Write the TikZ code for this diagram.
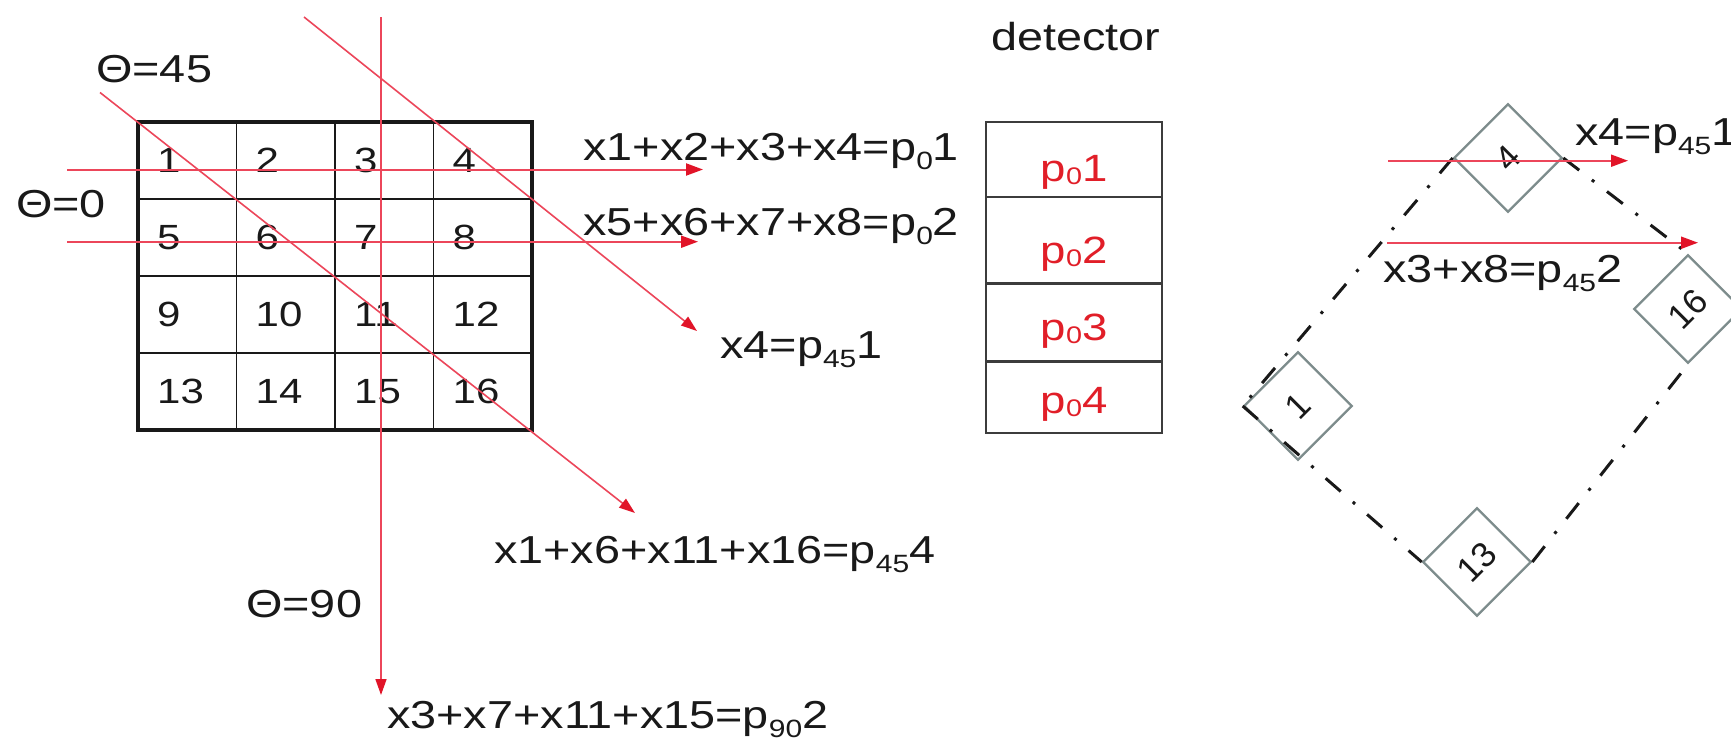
\documentclass[tikz,border=0pt]{standalone}
\usepackage{fontspec}
\setmainfont{Liberation Sans}
\usetikzlibrary{arrows.meta}
\definecolor{rl}{RGB}{236,70,90}
\definecolor{rh}{RGB}{225,20,40}
\definecolor{rt}{RGB}{225,30,40}
\definecolor{dg}{RGB}{125,140,140}
\definecolor{ink}{RGB}{25,25,25}
\definecolor{boxgray}{RGB}{60,60,60}
\newcommand\lsub[1]{\raisebox{-9pt}{\fontsize{25}{25}\selectfont #1}}
\newcommand\rsub[1]{\raisebox{-3pt}{\fontsize{24}{24}\selectfont #1}}
\begin{document}
\begin{tikzpicture}[x=1pt,y=1pt,
  lbl/.style={inner sep=0pt, xscale=1.2, font=\fontsize{39}{39}\selectfont, text=ink, anchor=base west},
  cellnum/.style={inner sep=0pt, xscale=1.2, font=\fontsize{35}{35}\selectfont, text=ink, anchor=west},
  detlbl/.style={inner sep=0pt, xscale=1.2, font=\fontsize{38}{38}\selectfont, text=rt, anchor=base},
  ray/.style={draw=rl, line width=2pt, -{Triangle[length=17pt,width=12pt,color=rh]}},
  dray/.style={draw=rl, line width=1.6pt, -{Triangle[length=16pt,width=11pt,color=rh]}},
  cellbox/.style={draw=dg, line width=2.2pt, rotate=45, minimum width=76pt, minimum height=76pt, inner sep=0pt, font=\fontsize{35}{35}\selectfont, text=ink},
  dashdot/.style={draw=ink, line width=3pt, dash pattern=on 20pt off 16pt on 3pt off 16pt}
]
\useasboundingbox (0,0) rectangle (1731,-740);
\fill[white] (0,0) rectangle (1731,-740);

% ---------- grid ----------
\foreach \c in {1,2,3} \draw[draw=ink, line width=1.8pt] ({138+98.5*\c},-122) -- ({138+98.5*\c},-430);
\foreach \r in {1,2,3} \draw[draw=ink, line width=1.8pt] (138,{-122-77*\r}) -- (532,{-122-77*\r});
\draw[draw=ink, line width=4.5pt] (138,-122) rectangle (532,-430);
\foreach \r in {0,...,3} {
  \foreach \c in {0,...,3} {
    \pgfmathtruncatemacro\n{4*\r+\c+1}
    \node[cellnum] (c\n) at ({157+98.5*\c}, {-(160.5+77*\r)}) {\n};
  }
}

% ---------- rays ----------
\coordinate (h1s) at (67,-169.5);  \coordinate (h1e) at (703,-169.5);
\coordinate (h2s) at (67,-241.7);  \coordinate (h2e) at (698,-241.7);
\coordinate (vs)  at (381,-17);    \coordinate (ve)  at (381,-695);
\coordinate (das) at (100,-92.5);  \coordinate (dae) at (635,-513);
\coordinate (dbs) at (304,-17);    \coordinate (dbe) at (697,-331);
\draw[ray] (h1s) -- (h1e);
\draw[ray] (h2s) -- (h2e);
\draw[dray] (vs) -- (ve);
\draw[dray] (das) -- (dae);
\draw[dray] (dbs) -- (dbe);

% ---------- labels ----------
\node[lbl] (t45) at (96,-82) {Θ=45};
\node[lbl] (t0) at (16,-217) {Θ=0};
\node[lbl] (t90) at (246,-617) {Θ=90};
\node[lbl] (e1) at (583,-160) {x1+x2+x3+x4=p\lsub{0}1};
\node[lbl] (e2) at (583,-235) {x5+x6+x7+x8=p\lsub{0}2};
\node[lbl] (e3) at (720,-358) {x4=p\lsub{45}1};
\node[lbl] (e4) at (494,-563) {x1+x6+x11+x16=p\lsub{45}4};
\node[lbl] (e5) at (387,-728) {x3+x7+x11+x15=p\lsub{90}2};

% ---------- detector ----------
\node[lbl, anchor=base] (det) at (1076,-50) {detector};
\draw[draw=boxgray, line width=2.2pt] (986,-121.7) rectangle (1162,-433.3);
\foreach \yy in {196.7,283.5,361.5} \draw[draw=boxgray, line width=2.2pt] (986,-\yy) -- (1162,-\yy);
\node[detlbl] (p1) at (1074,-181.7) {p\rsub{0}1};
\node[detlbl] (p2) at (1074,-263) {p\rsub{0}2};
\node[detlbl] (p3) at (1074,-340) {p\rsub{0}3};
\node[detlbl] (p4) at (1074,-413) {p\rsub{0}4};

% ---------- rotated grid ----------
\node[cellbox] (d1)  at (1298,-406) {1};
\node[cellbox] (d4)  at (1508,-158) {4};
\node[cellbox] (d16) at (1688,-309) {16};
\node[cellbox] (d13) at (1477,-562) {13};
\draw[dashdot] (d4.north west) -- (d1.north west);
\draw[dashdot] (d1.north west) -- (d13.north west);
\draw[dashdot] (d13.south east) -- (d16.south west);
\draw[dashdot] (d4.south east) -- (d16.north east);

\coordinate (r1s) at (1388,-160.7); \coordinate (r1e) at (1628,-160.7);
\coordinate (r2s) at (1387,-242.7); \coordinate (r2e) at (1698,-242.7);
\draw[ray] (r1s) -- (r1e);
\draw[ray] (r2s) -- (r2e);
\node[lbl] (e6) at (1575,-145) {x4=p\lsub{45}1};
\node[lbl] (e7) at (1383,-282) {x3+x8=p\lsub{45}2};
\end{tikzpicture}
\end{document}
